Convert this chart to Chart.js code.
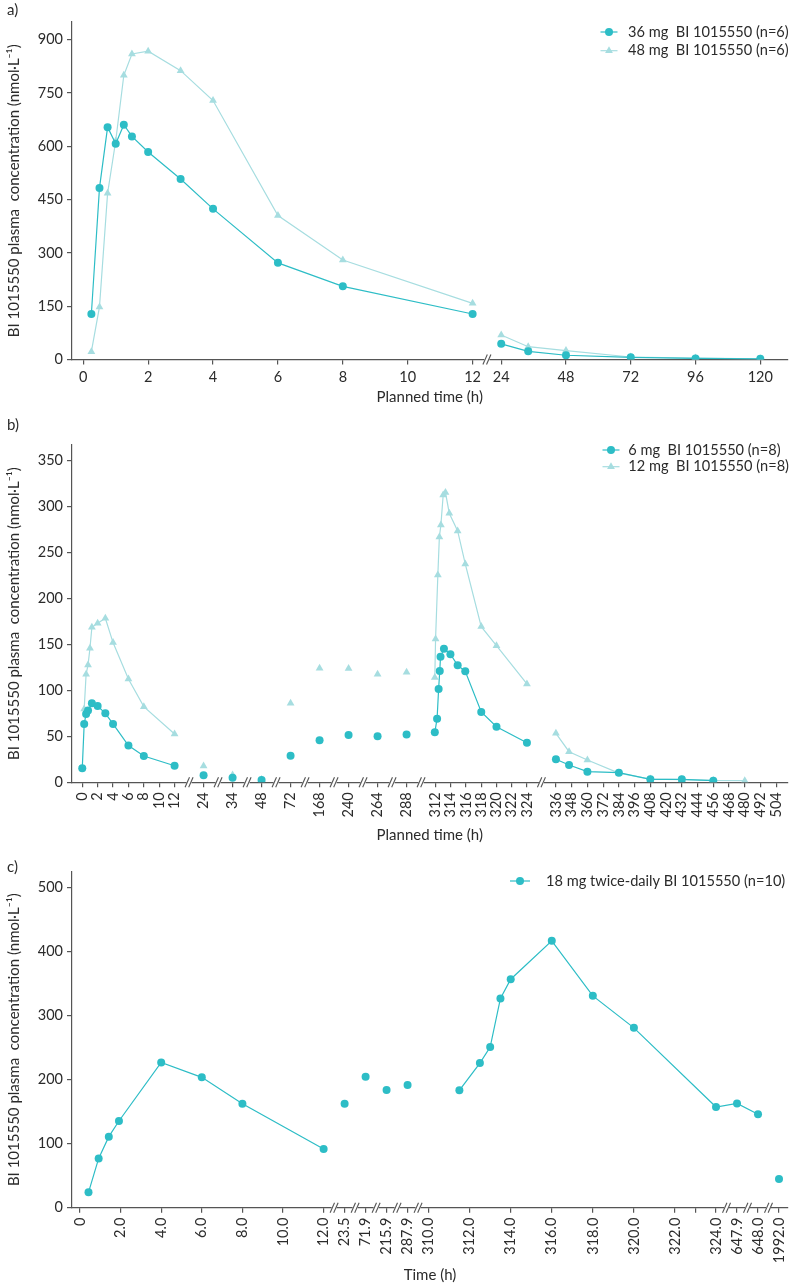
<!DOCTYPE html>
<html><head><meta charset="utf-8">
<script src="https://cdn.jsdelivr.net/npm/chart.js@4.4.1/dist/chart.umd.min.js"></script>
<style>
html,body{margin:0;padding:0;background:#fff;}
body{width:792px;height:1285px;position:relative;overflow:hidden;}
.panel{position:absolute;left:0;width:792px;}
</style></head><body>
<div class="panel" style="top:0;height:412px"><canvas id="ca"></canvas></div>
<div class="panel" style="top:412px;height:438px"><canvas id="cb"></canvas></div>
<div class="panel" style="top:850px;height:435px"><canvas id="cc"></canvas></div>
<script>
// ---------------- DATA ----------------
// Panel a
const aTimes = [0.25,0.5,0.75,1,1.25,1.5,2,3,4,6,8,12,24,34,48,72,96,120];
const a36 = [128,483,654,607,661,628,584,508,424,272,206,128,44,23,12,6,3,2];
const a48 = [22,148,468,615,800,860,868,813,729,405,280,158,69,36,25,7,4,2];
const aTickTimes = [0,2,4,6,8,10,12,24,48,72,96,120];
const aTickLabels = ['0','2','4','6','8','10','12','24','48','72','96','120'];
const aYTicks = [0,150,300,450,600,750,900];
const aRuns = [[0,12],[24,120]];

// Panel b
const b6Times = [0,0.25,0.5,0.75,1.25,2,3,4,6,8,12,24,34,48,72,168,240,264,288,
  311.9,312.2,312.4,312.55,312.65,313.1,313.95,314.9,315.9,318,320,324,336,346,360,384,408,432,456];
const b6 = [15.2,63.5,74.3,78,86,83,75,63.5,40,28.6,18,7.6,5,2.5,29,45.7,51.5,50,52,
  54.4,69.2,101.5,121,136.7,145.4,139.3,127.3,120.8,76.5,60.5,43.1,25,18.8,11.6,10.5,3.2,3.2,1.8];
const b12Times = [0.25,0.5,0.75,1,1.25,2,3,4,6,8,12,24,34,48,72,168,240,264,288,
  311.9,312,312.3,312.5,312.7,313,313.3,313.8,314.9,315.9,318,320,324,336,346,360,384,408,432,456,480];
const b12 = [79.8,117.5,127.7,145.8,168.7,173,178.5,152,112.4,82.3,52.6,17.7,8,3,86,124,123.7,117.5,119.7,
  114,156,225.6,267,280,312.7,315.2,292.8,273.5,237.6,169.4,148.7,107,53.3,33.3,24.3,10,3.5,3,2,1.8];
const bTickTimes = [0,2,4,6,8,10,12,24,34,48,72,168,240,264,288,312,314,316,318,320,322,324,
  336,348,360,372,384,396,408,420,432,444,456,468,480,492,504];
const bTickLabels = bTickTimes.map(String);
const bYTicks = [0,50,100,150,200,250,300,350];
const bRuns = [[0,12],[311,325],[336,504]];

// Panel c
const cTimes = [0.42,0.92,1.42,1.92,4,6,8,12,23.5,71.9,215.9,287.9,
  311.5,312.5,313,313.5,314,316,318,320,324,647.9,648,1992];
const cConc = [24,77,111,135.5,227,203.7,162.5,91.7,162.5,204.7,184,191.7,
  183.4,226,251,327,357,417,331,281,157.3,163,146,45];
const cTickTimes = [0,2,4,6,8,10,12,23.5,71.9,215.9,287.9,310,312,314,316,318,320,322,323,324,647.9,648,1992];
const cTickLabels = ['0','2.0','4.0','6.0','8.0','10.0','12.0','23.5','71.9','215.9','287.9','310.0',
  '312.0','314.0','316.0','318.0','320.0','322.0','','324.0','647.9','648.0','1992.0'];
const cYTicks = [0,100,200,300,400,500];
const cRuns = [[0,12],[311,648]];

// ---------------- STYLE / SCALE CONFIG ----------------
const DARK = '#2dbdc6';
const LIGHT = '#a6dde0';
const AXIS = '#555555';
const TEXT = '#2b2b2b';
const FONT = 'Lato, "Noto Sans", sans-serif';
const Y_TITLE = 'BI 1015550 plasma  concentration (nmol\u00b7L\u207b\u00b9)';

function buildAxisMap(segs, gap) {
  let pos = 0; const out = [];
  segs.forEach((s, i) => {
    const from = s[0], to = s.length > 1 ? s[1] : s[0], per = s[2] || 0;
    if (i > 0) pos += gap;
    const seg = {from, to, per, start: pos};
    pos += (to - from) * per;
    seg.end = pos;
    out.push(seg);
  });
  function map(t) {
    let best = out[0], bd = Infinity;
    for (const s of out) {
      const d = t < s.from ? s.from - t : (t > s.to ? t - s.to : 0);
      if (d < bd) { bd = d; best = s; }
    }
    return best.start + (t - best.from) * best.per;
  }
  const breaks = [];
  for (let i = 1; i < out.length; i++) breaks.push((out[i - 1].end + out[i].start) / 2);
  return {map, breaks};
}

function sameRun(t0, t1, runs) {
  return runs.some(r => t0 >= r[0] && t0 <= r[1] && t1 >= r[0] && t1 <= r[1]);
}

function noPad(sc) { sc.paddingLeft = 0; sc.paddingRight = 0; sc.paddingTop = 0; sc.paddingBottom = 0; }

function makeChart(id, o) {
  const axis = buildAxisMap(o.segs, o.gap);
  const datasets = o.series.map(s => ({
    label: s.label,
    data: s.times.map((t, i) => ({x: axis.map(t), y: s.values[i]})),
    showLine: true,
    borderColor: s.color,
    backgroundColor: s.color,
    borderWidth: 1.2,
    pointStyle: s.marker,
    pointRadius: s.radius,
    pointHoverRadius: s.radius,
    pointBorderWidth: 0,
    segment: {
      borderColor: ctx => sameRun(s.times[ctx.p0DataIndex], s.times[ctx.p1DataIndex], o.runs) ? undefined : 'rgba(0,0,0,0)'
    }
  }));

  const overlay = {
    id: 'overlay_' + id,
    afterDraw(chart) {
      const ctx = chart.ctx;
      const xs = chart.scales.x;
      const y0 = chart.chartArea.bottom;
      ctx.save();
      // axis breaks
      axis.breaks.forEach(u => {
        const px = xs.getPixelForValue(u);
        ctx.fillStyle = '#fff';
        ctx.fillRect(px - 2.5, y0 - 2, 5, 4);
        ctx.strokeStyle = AXIS; ctx.lineWidth = 1.1;
        [-1.8, 1.8].forEach(off => {
          ctx.beginPath();
          ctx.moveTo(px + off - 2.2, y0 + 5);
          ctx.lineTo(px + off + 2.2, y0 - 5);
          ctx.stroke();
        });
      });
      // legend
      ctx.font = '14.6px ' + FONT;
      ctx.textBaseline = 'middle';
      ctx.textAlign = 'left';
      o.series.forEach((s, i) => {
        const ly = o.legend.y + i * o.legend.dy;
        const mx = o.legend.mx;
        ctx.strokeStyle = s.color; ctx.lineWidth = 1.2;
        ctx.beginPath(); ctx.moveTo(mx - o.legend.half, ly); ctx.lineTo(mx + o.legend.half, ly); ctx.stroke();
        ctx.fillStyle = s.color;
        Chart.helpers.drawPoint(ctx, {pointStyle: s.marker, radius: s.radius, rotation: 0, borderWidth: 0}, mx, ly);
        ctx.fillStyle = TEXT;
        ctx.fillText(s.label, o.legend.tx, ly);
      });
      // panel label
      ctx.font = '15px ' + FONT;
      ctx.fillStyle = TEXT;
      ctx.fillText(o.panel, 7, o.panelY);
      ctx.restore();
    }
  };

  return new Chart(document.getElementById(id), {
    type: 'scatter',
    data: {datasets},
    options: {
      responsive: true,
      maintainAspectRatio: false,
      animation: false,
      events: [],
      layout: {padding: {top: o.padTop, right: 2, left: 0, bottom: 0}},
      plugins: {legend: {display: false}, tooltip: {enabled: false}},
      scales: {
        x: {
          type: 'linear',
          min: o.xMin, max: o.xMax,
          afterBuildTicks: sc => { sc.ticks = o.tickTimes.map(t => ({value: axis.map(t)})); },
          afterFit: sc => { sc.height = o.xHeight; noPad(sc); },
          ticks: {
            autoSkip: false, maxRotation: o.rot, minRotation: o.rot, padding: o.tickPad,
            color: TEXT, font: {family: FONT, size: 14.5},
            callback: (v, i) => o.tickLabels[i]
          },
          grid: {drawOnChartArea: false, drawTicks: true, tickLength: 5, color: AXIS, lineWidth: 1.2},
          border: {display: true, color: AXIS, width: 1.2},
          title: {display: true, text: o.xTitle, color: TEXT, font: {family: FONT, size: 15}, padding: {top: 0, bottom: o.xTitlePad}}
        },
        y: {
          type: 'linear',
          min: 0, max: o.yMax,
          afterBuildTicks: sc => { sc.ticks = o.yTicks.map(v => ({value: v})); },
          afterFit: sc => { sc.width = 72; noPad(sc); },
          ticks: {padding: 4, color: TEXT, font: {family: FONT, size: 14.5}},
          grid: {drawOnChartArea: false, drawTicks: true, tickLength: 5, color: AXIS, lineWidth: 1.2},
          border: {display: true, color: AXIS, width: 1.2},
          title: {display: true, text: Y_TITLE, color: TEXT, font: {family: FONT, size: 15}, padding: {top: 5, bottom: 0}}
        }
      }
    },
    plugins: [overlay]
  });
}

makeChart('ca', {
  panel: 'a)', panelY: 10,
  segs: [[0, 12, 32.56], [24, 120, 2.708]], gap: 28.7,
  xMin: -11.3, xMax: 706.7,
  runs: aRuns,
  tickTimes: aTickTimes, tickLabels: aTickLabels, rot: 0, tickPad: 4,
  xHeight: 52.5, padTop: 22, xTitle: 'Planned time (h)', xTitlePad: 6,
  yMax: 950, yTicks: aYTicks,
  legend: {y: 32, dy: 18.7, mx: 609, half: 8.5, tx: 628},
  series: [
    {label: '36 mg  BI 1015550 (n=6)', times: aTimes, values: a36, color: DARK, marker: 'circle', radius: 4},
    {label: '48 mg  BI 1015550 (n=6)', times: aTimes, values: a48, color: LIGHT, marker: 'triangle', radius: 4.5}
  ]
});

makeChart('cb', {
  panel: 'b)', panelY: 13,
  segs: [[0, 12, 7.72], [24], [34], [48], [72], [168], [240], [264], [288], [312, 324, 7.64], [336, 504, 1.316]], gap: 29.1,
  xMin: -10.3, xMax: 707.7,
  runs: bRuns,
  tickTimes: bTickTimes, tickLabels: bTickLabels, rot: 90, tickPad: 5,
  xHeight: 67.7, padTop: 33, xTitle: 'Planned time (h)', xTitlePad: 6,
  yMax: 367, yTicks: bYTicks,
  legend: {y: 38, dy: 16.7, mx: 611, half: 8.5, tx: 628.3},
  series: [
    {label: '6 mg  BI 1015550 (n=8)', times: b6Times, values: b6, color: DARK, marker: 'circle', radius: 4},
    {label: '12 mg  BI 1015550 (n=8)', times: b12Times, values: b12, color: LIGHT, marker: 'triangle', radius: 4.5}
  ]
});

makeChart('cc', {
  panel: 'c)', panelY: 17,
  segs: [[0, 12, 20.36], [23.5], [71.9], [215.9], [287.9], [310, 324, 20.59], [647.9], [648], [1992]], gap: 21.05,
  xMin: -8, xMax: 710,
  runs: cRuns,
  tickTimes: cTickTimes, tickLabels: cTickLabels, rot: 90, tickPad: 5,
  xHeight: 77.3, padTop: 21.7, xTitle: 'Time (h)', xTitlePad: 1,
  yMax: 525, yTicks: cYTicks,
  legend: {y: 31, dy: 18, mx: 520, half: 10, tx: 546},
  series: [
    {label: '18 mg twice-daily BI 1015550 (n=10)', times: cTimes, values: cConc, color: DARK, marker: 'circle', radius: 4}
  ]
});
</script>
</body></html>
